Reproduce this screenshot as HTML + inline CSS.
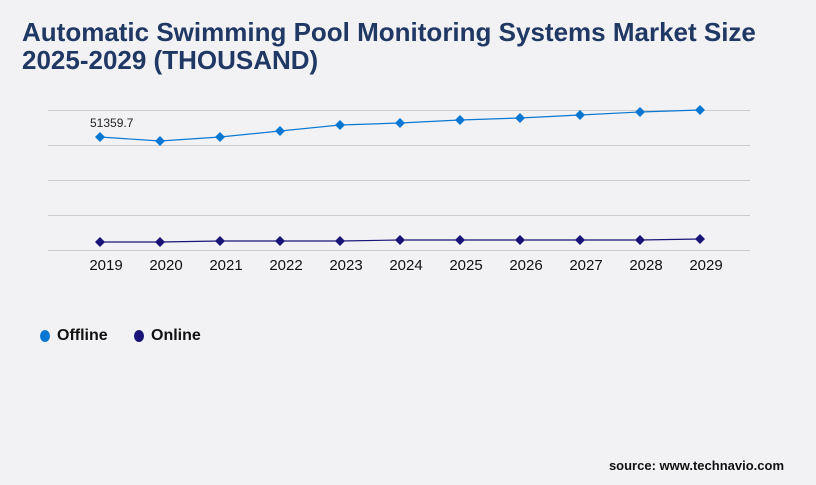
<!DOCTYPE html>
<html><head><meta charset="utf-8"><style>
body{margin:0;width:816px;height:480px;background:#f2f2f4;overflow:hidden;font-family:"Liberation Sans",sans-serif}
</style></head><body>
<svg width="816" height="480" xmlns="http://www.w3.org/2000/svg">
<rect width="816" height="480" fill="#f2f2f4"/>
<text x="22" y="41" font-size="26" font-weight="bold" fill="#1f3864" font-family="Liberation Sans, sans-serif">Automatic Swimming Pool Monitoring Systems Market Size</text>
<text x="22" y="69" font-size="26" font-weight="bold" fill="#1f3864" font-family="Liberation Sans, sans-serif">2025-2029 (THOUSAND)</text>
<g stroke="#cccccc" stroke-width="1">
<line x1="48" y1="110.5" x2="750" y2="110.5"/><line x1="48" y1="145.5" x2="750" y2="145.5"/><line x1="48" y1="180.5" x2="750" y2="180.5"/><line x1="48" y1="215.5" x2="750" y2="215.5"/><line x1="48" y1="250.5" x2="750" y2="250.5"/>
</g>
<polyline fill="none" stroke="#0a78d2" stroke-width="1.2" points="100,137 160,141 220,137 280,131 340,125 400,123 460,120 520,118 580,115 640,112 700,110"/>
<polyline fill="none" stroke="#1a1478" stroke-width="1.2" points="100,242 160,242 220,241 280,241 340,241 400,240 460,240 520,240 580,240 640,240 700,239"/>
<g fill="#0a78d2">
<path d="M100 132l5 5-5 5-5-5z"/><path d="M160 136l5 5-5 5-5-5z"/><path d="M220 132l5 5-5 5-5-5z"/><path d="M280 126l5 5-5 5-5-5z"/><path d="M340 120l5 5-5 5-5-5z"/><path d="M400 118l5 5-5 5-5-5z"/><path d="M460 115l5 5-5 5-5-5z"/><path d="M520 113l5 5-5 5-5-5z"/><path d="M580 110l5 5-5 5-5-5z"/><path d="M640 107l5 5-5 5-5-5z"/><path d="M700 105l5 5-5 5-5-5z"/>
</g>
<g fill="#1a1478">
<path d="M100 237l5 5-5 5-5-5z"/><path d="M160 237l5 5-5 5-5-5z"/><path d="M220 236l5 5-5 5-5-5z"/><path d="M280 236l5 5-5 5-5-5z"/><path d="M340 236l5 5-5 5-5-5z"/><path d="M400 235l5 5-5 5-5-5z"/><path d="M460 235l5 5-5 5-5-5z"/><path d="M520 235l5 5-5 5-5-5z"/><path d="M580 235l5 5-5 5-5-5z"/><path d="M640 235l5 5-5 5-5-5z"/><path d="M700 234l5 5-5 5-5-5z"/>
</g>
<text x="90" y="127" font-size="12" fill="#222" font-family="Liberation Sans, sans-serif">51359.7</text>
<g font-size="15" fill="#111" text-anchor="middle" font-family="Liberation Sans, sans-serif">
<text x="106" y="270">2019</text><text x="166" y="270">2020</text><text x="226" y="270">2021</text><text x="286" y="270">2022</text><text x="346" y="270">2023</text><text x="406" y="270">2024</text><text x="466" y="270">2025</text><text x="526" y="270">2026</text><text x="586" y="270">2027</text><text x="646" y="270">2028</text><text x="706" y="270">2029</text>
</g>
<ellipse cx="45" cy="336" rx="5" ry="6" fill="#0a78d2"/>
<text x="57" y="340" font-size="16" font-weight="bold" fill="#111" font-family="Liberation Sans, sans-serif">Offline</text>
<ellipse cx="139" cy="336" rx="5" ry="6" fill="#1a1478"/>
<text x="151" y="340" font-size="16" font-weight="bold" fill="#111" font-family="Liberation Sans, sans-serif">Online</text>
<text x="784" y="470" font-size="13" font-weight="bold" fill="#111" text-anchor="end" font-family="Liberation Sans, sans-serif">source: www.technavio.com</text>
</svg>
</body></html>
